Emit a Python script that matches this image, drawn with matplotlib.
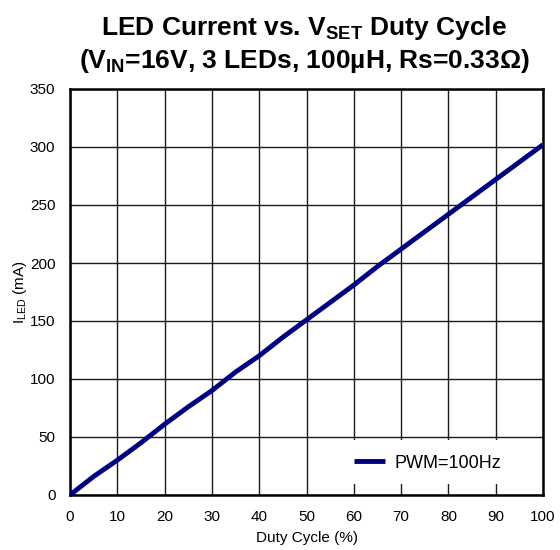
import matplotlib
matplotlib.use("Agg")
import matplotlib.pyplot as plt
from matplotlib.patches import Rectangle

plt.rcParams['font.family'] = ['Liberation Sans', 'DejaVu Sans']
plt.rcParams['mathtext.fontset'] = 'custom'
plt.rcParams['mathtext.rm'] = 'Liberation Sans'
plt.rcParams['mathtext.bf'] = 'Liberation Sans:bold'
plt.rcParams['mathtext.it'] = 'Liberation Sans:italic'

duty = [0, 5, 10, 15, 20, 25, 30, 35, 40, 45, 50, 55, 60, 65, 70, 75, 80, 85, 90, 95, 100]
iled = [0, 16, 30, 45, 61, 76, 90, 106, 120, 136, 151, 166, 181, 197, 212, 227, 242, 257, 272, 287, 302]
series_label = "PWM=100Hz"
xticks = list(range(0, 101, 10))
yticks = list(range(0, 351, 50))

W, H = 560, 550
fig = plt.figure(figsize=(W/100, H/100), dpi=100)
ax = fig.add_axes([70/W, 1 - 495/H, 473/W, 406/H])

ax.plot(duty, iled, color='#000080', linewidth=3.5, label=series_label, zorder=3, solid_capstyle='butt')
ax.set_xlim(0, 100)
ax.set_ylim(0, 350)
ax.set_xticks(xticks)
ax.set_yticks(yticks)
ax.tick_params(length=0, labelsize=11)
ax.tick_params(axis='x', pad=10.5)
ax.tick_params(axis='y', pad=10.5)
ax.grid(True, color='#1a1a1a', linewidth=1.0)
ax.set_axisbelow(True)
for s in ax.spines.values():
    s.set_linewidth(1.8)
    s.set_color('black')

ax.set_xlabel('Duty Cycle (%)', fontsize=11, labelpad=5)
ax.set_ylabel(r'I$_{\mathrm{LED}}$ (mA)', fontsize=11, labelpad=1)

xc = 304 / W
fig.text(xc, 1 - 35/H, r'LED Current vs. V$_{\mathbf{SET}}$ Duty Cycle', ha='center', va='baseline',
         fontsize=19, fontweight='bold')
fig.text(xc, 1 - 68/H, r'(V$_{\mathbf{IN}}$=16V, 3 LEDs, 100µH, Rs=0.33Ω)', ha='center', va='baseline',
         fontsize=19, fontweight='bold')

# white legend area covering grid
ax.add_patch(Rectangle(((330-70)/473, (495-484)/406), 1 - (330-70)/473 - 0.003, (484-440)/406,
                       transform=ax.transAxes, facecolor='white', edgecolor='none', zorder=2))
leg = ax.legend(loc='center left', bbox_to_anchor=((354-70)/473, (495-463)/406), fontsize=13,
                frameon=False, borderaxespad=0, borderpad=0, handlelength=1.7, handletextpad=0.55)
for h in leg.legend_handles:
    h.set_linewidth(3.5)

fig.savefig('out.png', dpi=100)
